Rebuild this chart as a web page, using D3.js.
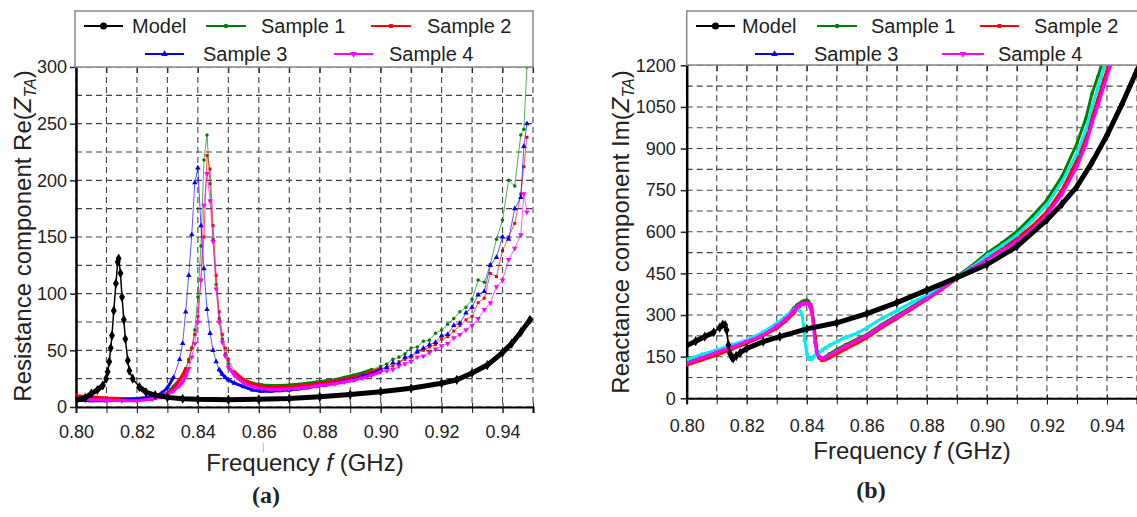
<!DOCTYPE html>
<html>
<head>
<meta charset="utf-8">
<script src="https://cdn.jsdelivr.net/npm/d3@7"></script>
<style>
body { margin: 0; background: #fff; }
text { font-family: "Liberation Sans", Arial, sans-serif; fill: #222; }
</style>
</head>
<body>
<svg id="chart" width="1137" height="517"></svg>
<script>
// ---- data ----
var xTicks = [0.80, 0.82, 0.84, 0.86, 0.88, 0.90, 0.92, 0.94];
var xTickLabels = ["0.80", "0.82", "0.84", "0.86", "0.88", "0.90", "0.92", "0.94"];
var yTicksA = [0, 50, 100, 150, 200, 250, 300];
var yTicksB = [0, 150, 300, 450, 600, 750, 900, 1050, 1200];
var seriesNames = ["Model", "Sample 1", "Sample 2", "Sample 3", "Sample 4"];

// (a) resistance
var modelFreqA = [0.800, 0.803, 0.805, 0.807, 0.8088, 0.8099, 0.8104, 0.8109, 0.8114, 0.8118,
	0.8124, 0.8131, 0.8137, 0.8140, 0.8146, 0.8151, 0.8157, 0.8162, 0.8170, 0.8175,
	0.8186, 0.8208, 0.8230, 0.826, 0.830, 0.835, 0.840, 0.850, 0.860, 0.870,
	0.880, 0.890, 0.900, 0.910, 0.920, 0.925, 0.930, 0.935, 0.940, 0.943, 0.946, 0.949];
var modelA = [6, 8, 11.8, 15, 19, 25, 31, 40, 52, 63,
	85, 109, 128, 131, 118, 97, 77, 60, 41, 32,
	25, 17.6, 13, 10.5, 8.5, 7.3, 6.8, 6.5, 6.8, 7.5,
	9, 11, 13.5, 16.5, 21, 24, 30, 37, 48, 56, 66, 77];

var freqA = [0.800, 0.805, 0.810, 0.815, 0.820, 0.825, 0.828, 0.830, 0.832, 0.834,
	0.835, 0.836, 0.837, 0.838, 0.839, 0.840, 0.841, 0.842, 0.843, 0.844,
	0.845, 0.846, 0.847, 0.848, 0.849, 0.850, 0.852, 0.855, 0.858, 0.861,
	0.864, 0.867, 0.870, 0.873, 0.876, 0.879, 0.882, 0.885, 0.888, 0.891,
	0.894, 0.897, 0.900, 0.902, 0.904, 0.906, 0.908, 0.910, 0.912, 0.914,
	0.916, 0.918, 0.920, 0.922, 0.924, 0.926, 0.928, 0.930, 0.932, 0.934,
	0.936, 0.938, 0.940, 0.942, 0.944, 0.946, 0.947, 0.948];
var sample1A = [8, 7, 6.5, 6, 6, 7, 9, 12, 18, 24,
	28, 34, 42, 52, 68, 97, 142, 218, 240, 197,
	148, 108, 78, 60, 47, 38, 30, 24, 21, 19.5,
	19, 19, 19.5, 20, 21, 22, 23, 24, 26, 28,
	30, 33, 36, 38, 42, 44, 47, 52, 53, 58,
	59, 65, 68, 73, 78, 84, 88, 95, 112, 110,
	126, 148, 165, 200, 195, 240, 245, 300];
var sample2A = [10, 9, 8, 7.5, 7.5, 8.5, 10, 12, 16, 24,
	28, 33, 40, 52, 64, 80, 112, 150, 222, 210,
	160, 116, 84, 64, 52, 42, 31, 24, 20, 18,
	17.5, 17.5, 18, 18.5, 19.5, 20.5, 21.5, 23, 24.5, 26,
	28, 31, 34, 35, 36, 40, 42, 44, 48, 50,
	53, 55, 60, 62, 67, 72, 77, 80, 92, 96,
	118, 115, 138, 150, 162, 188, 212, 238];
var sample3A = [6, 5.5, 5.5, 6, 7, 9, 12, 17, 26, 42,
	56, 84, 116, 152, 198, 211, 160, 122, 86, 65,
	50, 40, 33, 29, 26, 24, 21, 18, 15, 14,
	14, 14.5, 15, 16, 17, 18.5, 19.5, 21, 23, 24,
	27, 29, 33, 35, 39, 38, 44, 45, 49, 52,
	55, 57, 63, 64, 72, 74, 83, 88, 99, 102,
	125, 132, 150, 148, 175, 185, 230, 250];
var sample4A = [7, 6.5, 6, 5.5, 5.5, 7, 9, 11, 14, 19,
	22, 27, 34, 44, 56, 75, 112, 178, 206, 182,
	146, 104, 75, 57, 45, 35, 28, 21, 18, 16,
	15.5, 15.5, 16, 16.5, 17.5, 18.5, 19.5, 20.5, 22, 23.5,
	25.5, 28, 31, 32, 33, 36, 38, 40, 44, 45,
	48, 51, 54, 56, 61, 64, 68, 72, 78, 86,
	92, 106, 112, 130, 140, 152, 188, 172];

// (b) reactance
var modelFreqB = [0.800, 0.803, 0.806, 0.809, 0.811, 0.812, 0.8128, 0.8133, 0.8139, 0.8144,
	0.8150, 0.8155, 0.8165, 0.8178, 0.820, 0.8255, 0.831, 0.840, 0.850, 0.860,
	0.870, 0.880, 0.890, 0.900, 0.910, 0.920, 0.925, 0.930, 0.935, 0.940, 0.945, 0.950];
var modelB = [190, 206, 222, 238, 255, 266, 264, 246, 192, 162,
	148, 144, 152, 164, 180, 204, 222, 250, 272, 305,
	345, 390, 435, 482, 547, 643, 700, 763, 850, 948, 1060, 1182];

var freqB = [0.800, 0.805, 0.810, 0.815, 0.820, 0.825, 0.830, 0.833, 0.8356, 0.8367,
	0.8375, 0.8383, 0.839, 0.8393, 0.840, 0.8406, 0.8413, 0.8417, 0.8422, 0.8428,
	0.8433, 0.8440, 0.8450, 0.8460, 0.8475, 0.850, 0.853, 0.857, 0.860, 0.865,
	0.870, 0.875, 0.880, 0.885, 0.890, 0.895, 0.900, 0.905, 0.910, 0.915,
	0.920, 0.925, 0.930, 0.933, 0.935, 0.937, 0.939, 0.941, 0.943];
var sample1B = [128, 148, 168, 186, 204, 228, 262, 290, 324, 336,
	342, 348, 351, 352, 354, 350, 334, 310, 282, 222,
	174, 148, 142, 148, 160, 176, 194, 214, 230, 266,
	298, 330, 364, 400, 440, 478, 523, 560, 601, 655,
	715, 800, 918, 1010, 1098, 1160, 1230, 1300, 1380];
var sample2B = [120, 138, 156, 177, 198, 222, 252, 278, 306, 320,
	330, 338, 342, 344, 346, 344, 338, 320, 280, 220,
	172, 146, 136, 138, 146, 160, 178, 200, 218, 255,
	288, 322, 356, 392, 432, 468, 505, 540, 577, 620,
	673, 750, 859, 940, 1014, 1080, 1150, 1215, 1290];
var sample3B = [140, 158, 174, 192, 210, 236, 270, 296, 318, 324,
	318, 306, 258, 210, 162, 145, 140, 144, 150, 155,
	158, 164, 172, 180, 190, 204, 220, 236, 254, 288,
	316, 346, 372, 404, 438, 472, 515, 550, 589, 640,
	697, 780, 882, 968, 1050, 1120, 1190, 1265, 1340];
var sample4B = [126, 146, 166, 184, 204, 226, 260, 286, 314, 326,
	334, 340, 342, 342, 342, 340, 322, 306, 258, 198,
	166, 150, 144, 146, 156, 170, 188, 210, 226, 262,
	294, 326, 360, 395, 434, 468, 500, 532, 565, 608,
	661, 735, 835, 915, 990, 1055, 1125, 1195, 1265];

// ---- drawing ----
var svg = d3.select("#chart");

var styles = [
	{color: "#000", sym: d3.symbolDiamond, size: 30, rot: 0},
	{color: "#008000", sym: d3.symbolCircle, size: 10, rot: 0},
	{color: "#ff0000", sym: d3.symbolSquare, size: 9, rot: 0},
	{color: "#0000ff", sym: d3.symbolTriangle, size: 13, rot: 0},
	{color: "#ff00ff", sym: d3.symbolTriangle, size: 13, rot: 180}
];

function drawPanel(p) {
	var x = d3.scaleLinear().domain([0.80, 0.95]).range([p.left, p.right]);
	var y = d3.scaleLinear().domain([0, p.yMax]).range([p.bottom, p.top]);
	var g = svg.append("g");

	g.append("clipPath").attr("id", p.id + "clip")
		.append("rect")
		.attr("x", p.left).attr("y", p.top)
		.attr("width", p.right - p.left).attr("height", p.bottom - p.top);

	// dashed grid
	var xGrid = d3.range(0, 16).map(function (i) { return 0.80 + i * 0.01; });
	var yGrid = d3.range(0, p.yMax + 1, p.yMinor);
	g.selectAll(".vg").data(xGrid).enter().append("line")
		.attr("x1", function (d) { return x(d); }).attr("x2", function (d) { return x(d); })
		.attr("y1", p.top).attr("y2", p.bottom)
		.attr("stroke", "#444").attr("stroke-width", 1.1).attr("stroke-dasharray", "6,4");
	g.selectAll(".hg").data(yGrid).enter().append("line")
		.attr("x1", p.left).attr("x2", p.right)
		.attr("y1", function (d) { return y(d); }).attr("y2", function (d) { return y(d); })
		.attr("stroke", "#444").attr("stroke-width", 1.1).attr("stroke-dasharray", "6,4");

	// top inner ticks
	g.append("g")
		.attr("transform", "translate(0," + p.top + ")")
		.call(d3.axisBottom(x).tickValues(xGrid).tickSize(6).tickFormat(""))
		.call(function (a) { a.select(".domain").remove(); a.selectAll("line").attr("stroke", "#222"); });

	// bottom axis
	g.append("g")
		.attr("transform", "translate(0," + p.bottom + ")")
		.call(d3.axisBottom(x).tickValues(xGrid).tickSize(6).tickFormat(""))
		.call(function (a) { a.select(".domain").remove(); a.selectAll("line").attr("stroke", "#222").attr("y1", -4); });
	var bx = g.append("g")
		.attr("transform", "translate(0," + p.bottom + ")")
		.call(d3.axisBottom(x).tickValues(xTicks).tickSize(6).tickPadding(p.xPad)
			.tickFormat(function (d, i) { return xTickLabels[i]; }));
	bx.select(".domain").attr("stroke", "#000").attr("stroke-width", 2);
	bx.selectAll("line").attr("stroke", "#222");
	bx.selectAll("text").attr("font-size", "18px").attr("fill", "#222")
		.attr("font-family", "Liberation Sans, Arial, sans-serif");

	// left axis
	var ly = g.append("g")
		.attr("transform", "translate(" + p.left + ",0)")
		.call(d3.axisLeft(y).tickValues(p.yTicks).tickSize(6).tickPadding(p.yPad).tickSizeOuter(0)
			.tickFormat(d3.format("d")));
	ly.select(".domain").attr("stroke", "#000").attr("stroke-width", 2.5);
	ly.selectAll("line").attr("stroke", "#222").attr("stroke-width", 1.5);
	ly.selectAll("text").attr("font-size", "18px").attr("fill", "#222")
		.attr("font-family", "Liberation Sans, Arial, sans-serif");

	// series
	var plot = g.append("g").attr("clip-path", "url(#" + p.id + "clip)");
	p.series.forEach(function (s) {
		var st = styles[s.style];
		var col = s.lineColor || st.color;
		var pts = s.freq.map(function (f, i) { return {f: f, v: s.vals[i]}; });
		var line = d3.line().x(function (d) { return x(d.f); }).y(function (d) { return y(d.v); });
		plot.append("path").datum(pts)
			.attr("d", line)
			.attr("fill", "none")
			.attr("stroke", col)
			.attr("stroke-opacity", s.thin ? 0.65 : 1)
			.attr("stroke-width", s.width);
		if (s.thick) {
			var thickLine = d3.line().defined(s.thick)
				.x(function (d) { return x(d.f); }).y(function (d) { return y(d.v); });
			plot.append("path").datum(pts)
				.attr("d", thickLine)
				.attr("fill", "none")
				.attr("stroke", col)
				.attr("stroke-width", s.thickWidth)
				.attr("stroke-linecap", "round");
		}
		plot.selectAll(null).data(pts).enter().append("path")
			.attr("transform", function (d) { return "translate(" + x(d.f) + "," + y(d.v) + ") rotate(" + st.rot + ")"; })
			.attr("d", d3.symbol().type(st.sym).size(st.size))
			.attr("fill", col);
	});

	// legend box
	g.append("rect")
		.attr("x", p.legend.x).attr("y", p.legend.y)
		.attr("width", p.legend.w).attr("height", p.legend.h)
		.attr("fill", "#fff").attr("stroke", "#888").attr("stroke-width", 1.5);
	p.legend.items.forEach(function (it, i) {
		var st = styles[i];
		var lg = g.append("g");
		lg.append("line")
			.attr("x1", it.x1).attr("x2", it.x2).attr("y1", it.y).attr("y2", it.y)
			.attr("stroke", st.color).attr("stroke-width", 2);
		lg.append("path")
			.attr("transform", "translate(" + (it.x1 + it.x2) / 2 + "," + it.y + ") rotate(" + st.rot + ")")
			.attr("d", d3.symbol().type(i == 0 ? d3.symbolCircle : st.sym).size(i == 0 ? 40 : st.size + 6))
			.attr("fill", st.color);
		lg.append("text")
			.attr("x", it.tx).attr("y", it.y).attr("dy", "0.35em")
			.attr("font-size", "20px")
			.text(seriesNames[i]);
	});

	// axis titles
	var xt = g.append("text")
		.attr("x", p.xTitle[0]).attr("y", p.xTitle[1])
		.attr("text-anchor", "middle").attr("font-size", "24px");
	xt.append("tspan").text("Frequency ");
	xt.append("tspan").attr("font-style", "italic").text("f");
	xt.append("tspan").text(" (GHz)");

	var yt = g.append("text")
		.attr("transform", "translate(" + p.yTitle[0] + "," + p.yTitle[1] + ") rotate(-90)")
		.attr("text-anchor", "middle").attr("font-size", "24px");
	yt.append("tspan").text(p.yLabel + "(");
	yt.append("tspan").attr("font-style", "italic").text("Z");
	yt.append("tspan").attr("font-style", "italic").attr("font-size", "16px").attr("dy", 5).text("TA");
	yt.append("tspan").attr("dy", -5).text(")");

	g.append("text")
		.attr("x", p.tag[0]).attr("y", p.tag[1])
		.attr("text-anchor", "middle")
		.attr("font-weight", "bold").attr("font-size", "24px")
		.style("font-family", "Liberation Serif, serif")
		.text(p.tagText);

	return x;
}

var xa = drawPanel({
	id: "a", left: 76, right: 533, top: 67, bottom: 407,
	yMax: 300, yMinor: 25, yTicks: yTicksA, xPad: 12, yPad: 3,
	yLabel: "Resistance component Re", xTitle: [305, 471], yTitle: [31, 236],
	tag: [266, 503], tagText: "(a)",
	legend: {x: 75, y: 11, w: 458, h: 56, items: [
		{x1: 84, x2: 123, tx: 132, y: 26},
		{x1: 206, x2: 246, tx: 261, y: 26},
		{x1: 371, x2: 411, tx: 427, y: 26},
		{x1: 145, x2: 184, tx: 203, y: 54},
		{x1: 334, x2: 373, tx: 389, y: 54}
	]},
	series: [
		{freq: freqA, vals: sample1A, style: 1, width: 1, thin: true, thickWidth: 3,
			thick: function (d) { return d.v < 36 && d.f <= 0.9; }},
		{freq: freqA, vals: sample2A, style: 2, width: 1, thin: true, thickWidth: 3,
			thick: function (d) { return d.v < 36 && d.f <= 0.9; }},
		{freq: freqA, vals: sample3A, style: 3, width: 1, thin: true, thickWidth: 3,
			thick: function (d) { return d.v < 36 && d.f <= 0.9; }},
		{freq: freqA, vals: sample4A, style: 4, width: 1, thin: true, thickWidth: 3,
			thick: function (d) { return d.v < 36 && d.f <= 0.9; }},
		{freq: modelFreqA, vals: modelA, style: 0, width: 1.5, thickWidth: 5,
			thick: function (d) { return d.f < 0.8095 || d.f > 0.819; }}
	]
});

// small stray mark under the 0.86 label in the original
svg.append("line")
	.attr("x1", xa(0.8615)).attr("x2", xa(0.8615))
	.attr("y1", 443).attr("y2", 452)
	.attr("stroke", "#bbb").attr("stroke-width", 1);

drawPanel({
	id: "b", left: 686.7, right: 1137, top: 65.3, bottom: 398.3,
	yMax: 1200, yMinor: 75, yTicks: yTicksB, xPad: 15, yPad: 5,
	yLabel: "Reactance component Im", xTitle: [912, 459], yTitle: [629, 232],
	tag: [871, 498], tagText: "(b)",
	legend: {x: 686.7, y: 11, w: 460, h: 54, items: [
		{x1: 696, x2: 735, tx: 742, y: 26},
		{x1: 817, x2: 857, tx: 871, y: 26},
		{x1: 980, x2: 1019, tx: 1034, y: 26},
		{x1: 755, x2: 794, tx: 814, y: 54},
		{x1: 942, x2: 984, tx: 998, y: 54}
	]},
	series: [
		{freq: freqB, vals: sample1B, style: 1, width: 3},
		{freq: freqB, vals: sample2B, style: 2, width: 3},
		{freq: freqB, vals: sample3B, style: 3, width: 3, lineColor: "#00eef0"},
		{freq: freqB, vals: sample4B, style: 4, width: 3},
		{freq: modelFreqB, vals: modelB, style: 0, width: 1.8, thickWidth: 5,
			thick: function (d) { return d.f < 0.8105 || d.f > 0.817; }}
	]
});
</script>
</body>
</html>
